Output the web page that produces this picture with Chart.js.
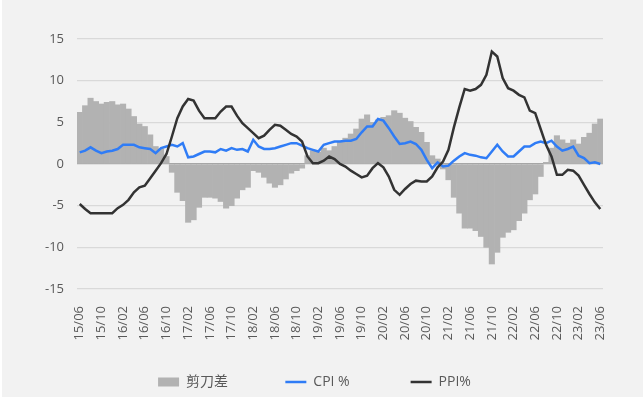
<!DOCTYPE html>
<html>
<head>
<meta charset="utf-8">
<script src="https://cdn.jsdelivr.net/npm/chart.js@4/dist/chart.umd.min.js"></script>
<style>
  html, body { margin: 0; padding: 0; background: #ffffff; }
  #wrap { position: absolute; left: 2px; top: 0; width: 641px; height: 397px; background: #f2f2f2; }
</style>
</head>
<body>
<div id="wrap"><canvas id="chart" width="641" height="397"></canvas></div>
<script>
// months 2015/06 .. 2023/06, shown as yy/mm
const startYear = 15, startMonth = 6, monthCount = 97;
const months = [];
for (let i = 0; i < monthCount; i++) {
  const m = startMonth - 1 + i;
  const yy = startYear + Math.floor(m / 12);
  const mm = (m % 12) + 1;
  months.push(yy + '/' + (mm < 10 ? '0' + mm : mm));
}

// CPI yoy %
const cpi = [
  1.4, 1.6, 2.0, 1.6, 1.3, 1.5, 1.6,
  1.8, 2.3, 2.3, 2.3, 2.0, 1.9, 1.8, 1.3, 1.9, 2.1, 2.3, 2.1,
  2.5, 0.8, 0.9, 1.2, 1.5, 1.5, 1.4, 1.8, 1.6, 1.9, 1.7, 1.8,
  1.5, 2.9, 2.1, 1.8, 1.8, 1.9, 2.1, 2.3, 2.5, 2.5, 2.2, 1.9,
  1.7, 1.5, 2.3, 2.5, 2.7, 2.7, 2.8, 2.8, 3.0, 3.8, 4.5, 4.5,
  5.4, 5.2, 4.3, 3.3, 2.4, 2.5, 2.7, 2.4, 1.7, 0.5, -0.5, 0.2,
  -0.3, -0.2, 0.4, 0.9, 1.3, 1.1, 1.0, 0.8, 0.7, 1.5, 2.3, 1.5,
  0.9, 0.9, 1.5, 2.1, 2.1, 2.5, 2.7, 2.5, 2.8, 2.1, 1.6, 1.8,
  2.1, 1.0, 0.7, 0.1, 0.2, 0.0
];

// PPI yoy %
const ppi = [
  -4.8, -5.4, -5.9, -5.9, -5.9, -5.9, -5.9,
  -5.3, -4.9, -4.3, -3.4, -2.8, -2.6, -1.7, -0.8, 0.1, 1.2, 3.3, 5.5,
  6.9, 7.8, 7.6, 6.4, 5.5, 5.5, 5.5, 6.3, 6.9, 6.9, 5.8, 4.9,
  4.3, 3.7, 3.1, 3.4, 4.1, 4.7, 4.6, 4.1, 3.6, 3.3, 2.7, 0.9,
  0.1, 0.1, 0.4, 0.9, 0.6, 0.0, -0.3, -0.8, -1.2, -1.6, -1.4, -0.5,
  0.1, -0.4, -1.5, -3.1, -3.7, -3.0, -2.4, -2.0, -2.1, -2.1, -1.5, -0.4,
  0.3, 1.7, 4.4, 6.8, 9.0, 8.8, 9.0, 9.5, 10.7, 13.5, 12.9, 10.3,
  9.1, 8.8, 8.3, 8.0, 6.4, 6.1, 4.2, 2.3, 0.9, -1.3, -1.3, -0.7,
  -0.8, -1.4, -2.5, -3.6, -4.6, -5.4
];

// 剪刀差 (CPI - PPI)
const spread = [
  6.2, 7.0, 7.9, 7.5, 7.2, 7.4, 7.5,
  7.1, 7.2, 6.6, 5.7, 4.8, 4.5, 3.5, 2.1, 1.8, 0.9, -1.0, -3.4,
  -4.4, -7.0, -6.7, -5.2, -4.0, -4.0, -4.1, -4.5, -5.3, -5.0, -4.1, -3.1,
  -2.8, -0.8, -1.0, -1.6, -2.3, -2.8, -2.5, -1.8, -1.1, -0.8, -0.5, 1.0,
  1.6, 1.4, 1.9, 1.6, 2.1, 2.7, 3.1, 3.6, 4.2, 5.4, 5.9, 5.0,
  5.3, 5.6, 5.8, 6.4, 6.1, 5.5, 5.1, 4.4, 3.8, 2.6, 1.0, 0.6,
  -0.6, -1.9, -4.0, -5.9, -7.7, -7.7, -8.0, -8.7, -10.0, -12.0, -10.6, -8.8,
  -8.2, -7.9, -6.8, -5.9, -4.3, -3.6, -1.5, 0.2, 1.9, 3.4, 2.9, 2.5,
  2.9, 2.4, 3.2, 3.7, 4.8, 5.4
];

const yTicks = [-15, -10, -5, 0, 5, 10, 15];

Chart.defaults.font.family = '"Open Sans", "Noto Sans CJK SC", sans-serif';
Chart.defaults.color = '#595959';

const ctx = document.getElementById('chart');

// trailing spaces per legend entry, to spread the items out
const legendGap = { '剪刀差': 13, 'CPI %': 14 };

new Chart(ctx, {
  type: 'bar',
  data: {
    labels: months,
    datasets: [
      {
        type: 'line',
        label: 'CPI %',
        data: cpi,
        borderColor: '#2f7cf6',
        backgroundColor: '#2f7cf6',
        borderWidth: 2.5,
        pointRadius: 0,
        pointStyle: 'line',
        tension: 0,
        order: 1
      },
      {
        type: 'line',
        label: 'PPI%',
        data: ppi,
        borderColor: '#333333',
        backgroundColor: '#333333',
        borderWidth: 2.5,
        pointRadius: 0,
        pointStyle: 'line',
        tension: 0,
        order: 0
      },
      {
        label: '剪刀差',
        data: spread,
        backgroundColor: '#b2b2b2',
        borderWidth: 0,
        pointStyle: 'rect',
        barPercentage: 1.0,
        categoryPercentage: 1.0,
        order: 2
      }
    ]
  },
  options: {
    responsive: false,
    animation: false,
    devicePixelRatio: 1,
    layout: {
      // left padding also moves the centred legend to the right
      padding: { left: 24, right: 40, top: 39, bottom: -2 }
    },
    plugins: {
      tooltip: { enabled: false },
      legend: {
        position: 'bottom',
        reverse: true, // bar first like the reference
        labels: {
          usePointStyle: true,
          pointStyleWidth: 21,
          boxHeight: 9,
          padding: 10,
          font: { size: 14 },
          color: '#595959',
          generateLabels: (chart) => {
            const items = Chart.defaults.plugins.legend.labels.generateLabels(chart);
            items.forEach(item => {
              const n = legendGap[item.text] || 0;
              item.text = item.text + ' '.repeat(n);
            });
            return items;
          }
        }
      }
    },
    scales: {
      x: {
        // keep the plot bottom where the reference has it
        afterFit: (scale) => { scale.height = 76; },
        grid: { display: false, drawTicks: false },
        border: { display: false },
        ticks: {
          autoSkip: false,
          maxRotation: 90,
          minRotation: 90,
          padding: 17,
          font: { size: 13 },
          callback: (val, i) => (i % 4 === 0 ? months[i] : '')
        }
      },
      y: {
        min: -15,
        max: 15,
        afterBuildTicks: (scale) => {
          scale.ticks = yTicks.map(v => ({ value: v }));
        },
        afterFit: (scale) => { scale.width = 51; },
        grid: {
          drawTicks: false,
          color: (c) => (c.tick && c.tick.value === 0 ? '#a6a6a6' : '#d9d9d9'),
          lineWidth: 1.2
        },
        border: { display: false },
        ticks: {
          padding: 13,
          font: { size: 13 }
        }
      }
    }
  }
});
</script>
</body>
</html>
